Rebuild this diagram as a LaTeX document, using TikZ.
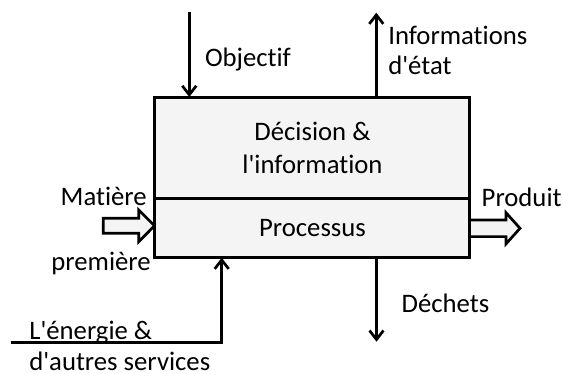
\documentclass[tikz,border=0pt]{standalone}
\usepackage{fontspec}
\setmainfont{Carlito}[Ligatures={TeXOff,NoCommon}]
\usetikzlibrary{arrows.meta,calc}
\definecolor{boxfill}{HTML}{F4F4F4}
\begin{document}
\begin{tikzpicture}[x=1pt,y=-1pt,
  lbl/.style={font=\fontsize{26.7}{31}\selectfont, inner sep=0pt, outer sep=0pt},
  ln/.style={line width=2.7pt, -{Straight Barb[length=9pt,width=14pt]}},
  fatarrow/.style={draw, line width=2.7pt, fill=boxfill, line join=miter},
  mainbox/.style={draw, line width=3pt, fill=boxfill, inner sep=0pt, outer sep=0pt,
    minimum width=315pt, minimum height=160.7pt, anchor=north west},
]
\useasboundingbox (0,0) rectangle (563,373);
% fat arrows (behind the box)
\coordinate (mtip) at (154.5,225.8);
\coordinate (pbase) at (469.5,228.3);
\draw[fatarrow] ($(mtip)+(-51.2,-7.5)$) -- ($(mtip)+(-15.7,-7.5)$) -- ($(mtip)+(-15.7,-15.8)$)
  -- (mtip) -- ($(mtip)+(-15.7,15.8)$) -- ($(mtip)+(-15.7,7.5)$) -- ($(mtip)+(-51.2,7.5)$) -- cycle;
\draw[fatarrow] ($(pbase)+(0,-8.3)$) -- ($(pbase)+(36.5,-8.3)$) -- ($(pbase)+(36.5,-15.6)$)
  -- ($(pbase)+(50.5,0)$) -- ($(pbase)+(36.5,15.6)$) -- ($(pbase)+(36.5,8.3)$) -- ($(pbase)+(0,8.3)$) -- cycle;
% main box
\node[mainbox] (box) at (154.5,97) {};
\coordinate (divl) at (154.5,198.3);
\draw[line width=3pt] (divl) -- (divl -| box.east);
% box texts
\node[lbl, anchor=base, align=center, font=\fontsize{26.7}{32.6}\selectfont] (dec) at (312.5,173.3) {Décision \&\\l'information};
\node[lbl, anchor=base] (proc) at (312.5,236.7) {Processus};
% connectors
\coordinate (otop) at (189.3,11.7);
\draw[ln] (otop) -- (otop |- box.north);
\coordinate (itop) at (376.3,12.7);
\draw[ln] (box.north -| itop) -- (itop);
\coordinate (dbot) at (376.5,341.7);
\draw[ln] (box.south -| dbot) -- (dbot);
\coordinate (estart) at (10.7,342.7);
\coordinate (ecorner) at (221.7,342.7);
\draw[ln, line join=miter] (estart) -- (ecorner) -- (ecorner |- box.south);
% outer labels
\node[lbl, anchor=base west] (obj) at (205,66.5) {Objectif};
\node[lbl, anchor=base west, align=left, font=\fontsize{26.7}{30}\selectfont] (info) at (388.3,74) {Informations\\d'état};
\node[lbl, anchor=base east] (mat) at (146.7,205) {Matière};
\node[lbl, anchor=base east] (prem) at (150.7,270) {première};
\node[lbl, anchor=base west] (prod) at (481.7,206.7) {Produit};
\node[lbl, anchor=base west] (dech) at (401.7,312.7) {Déchets};
\node[lbl, anchor=base west, align=left, font=\fontsize{26.7}{31}\selectfont] (ener) at (29.3,370) {L'énergie \&\\d'autres services};
\end{tikzpicture}
\end{document}
